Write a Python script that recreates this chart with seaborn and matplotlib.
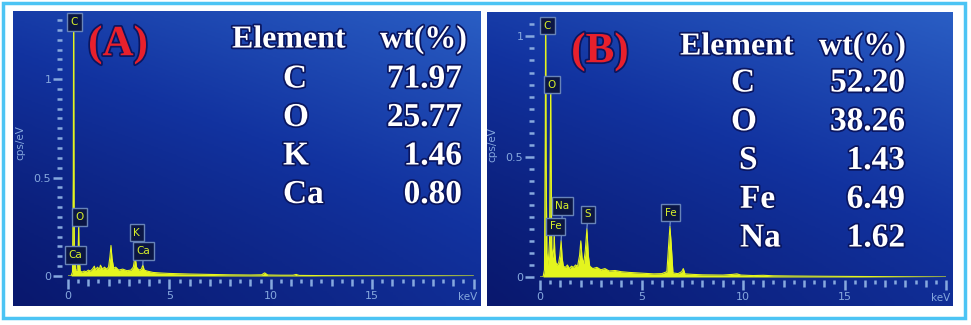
import numpy as np
import matplotlib
matplotlib.use('Agg')
import matplotlib.pyplot as plt
import matplotlib.patheffects as pe
from matplotlib.colors import LinearSegmentedColormap
from matplotlib.patches import Rectangle
from matplotlib.ticker import MultipleLocator, FixedLocator, FuncFormatter
import seaborn as sns

# spectrum (A): energy in keV, intensity in cps/eV
energy_a = [0.0, 0.15, 0.22, 0.26, 0.277, 0.30, 0.32, 0.34, 0.37, 0.45, 0.50, 0.525,
            0.55, 0.60, 0.70, 0.80, 0.90, 1.00, 1.10, 1.20, 1.30, 1.35, 1.45, 1.55,
            1.60, 1.70, 1.80, 1.90, 2.00, 2.07, 2.12, 2.17, 2.25, 2.35, 2.50, 2.70,
            2.90, 3.10, 3.22, 3.31, 3.38, 3.50, 3.62, 3.69, 3.76, 3.90, 4.20, 4.60,
            5.00, 6.00, 7.00, 8.00, 9.00, 9.55, 9.70, 9.85, 10.5, 11.1, 11.25, 11.4,
            12.5, 14.0, 16.0, 18.0, 20.0]
counts_a = [0.0, 0.0, 0.02, 0.5, 1.40, 0.30, 0.06, 0.09, 0.03, 0.03, 0.12, 0.25,
            0.10, 0.025, 0.02, 0.025, 0.022, 0.03, 0.025, 0.035, 0.05, 0.03, 0.045, 0.035,
            0.055, 0.035, 0.045, 0.035, 0.045, 0.10, 0.155, 0.09, 0.04, 0.045, 0.03, 0.035,
            0.027, 0.03, 0.045, 0.10, 0.045, 0.03, 0.035, 0.055, 0.03, 0.025, 0.018, 0.015,
            0.013, 0.01, 0.008, 0.006, 0.005, 0.006, 0.016, 0.005, 0.004, 0.004, 0.008, 0.003,
            0.002, 0.0015, 0.001, 0.001, 0.0]

# spectrum (B)
energy_b = [0.0, 0.15, 0.22, 0.26, 0.277, 0.30, 0.34, 0.40, 0.47, 0.51, 0.525, 0.545,
            0.58, 0.63, 0.68, 0.705, 0.73, 0.78, 0.85, 0.92, 0.98, 1.04, 1.09, 1.15,
            1.25, 1.35, 1.45, 1.55, 1.65, 1.75, 1.85, 1.95, 2.01, 2.07, 2.15, 2.23,
            2.31, 2.38, 2.45, 2.60, 2.80, 3.00, 3.20, 3.40, 3.70, 4.00, 4.40, 4.80,
            5.20, 5.60, 6.00, 6.25, 6.35, 6.40, 6.46, 6.55, 6.80, 6.98, 7.06, 7.14,
            7.50, 8.00, 9.00, 9.50, 9.70, 9.90, 10.5, 11.0, 11.5, 12.5, 14.0, 16.0,
            18.0, 20.0]
counts_b = [0.0, 0.0, 0.03, 0.6, 1.15, 0.5, 0.10, 0.05, 0.15, 0.6, 0.76, 0.5,
            0.12, 0.08, 0.12, 0.17, 0.10, 0.06, 0.05, 0.06, 0.09, 0.15, 0.08, 0.045,
            0.04, 0.05, 0.035, 0.045, 0.04, 0.05, 0.045, 0.09, 0.15, 0.08, 0.055, 0.11,
            0.20, 0.09, 0.045, 0.035, 0.04, 0.03, 0.035, 0.025, 0.027, 0.022, 0.019, 0.017,
            0.015, 0.013, 0.014, 0.022, 0.15, 0.21, 0.14, 0.017, 0.014, 0.022, 0.035, 0.013,
            0.011, 0.009, 0.008, 0.011, 0.013, 0.008, 0.006, 0.007, 0.005, 0.004, 0.003, 0.002,
            0.001, 0.0]

# peak labels: element, peak energy, peak height, label x, label y
peaks_a = [('C', 0.277, 1.30, 0.32, 1.29), ('O', 0.525, 0.25, 0.57, 0.30),
           ('Ca', 0.34, 0.09, 0.37, 0.107), ('K', 3.31, 0.10, 3.38, 0.22),
           ('Ca', 3.69, 0.055, 3.72, 0.127)]
peaks_b = [('C', 0.277, 1.06, 0.37, 1.045), ('O', 0.525, 0.76, 0.59, 0.80),
           ('Na', 1.04, 0.15, 1.11, 0.295), ('Fe', 0.705, 0.17, 0.76, 0.21),
           ('S', 2.31, 0.20, 2.36, 0.26), ('Fe', 6.40, 0.21, 6.45, 0.268)]

# composition tables
elements_a = ['C', 'O', 'K', 'Ca']
wt_a = ['71.97', '25.77', '1.46', '0.80']
elements_b = ['C', 'O', 'S', 'Fe', 'Na']
wt_b = ['52.20', '38.26', '1.43', '6.49', '1.62']

sns.set_theme(style='white')
plt.rcParams['font.family'] = ['DejaVu Sans']

W, H = 971, 325
TICK = '#86a8de'
SPEC = '#e4f41e'
fig = plt.figure(figsize=(9.71, 3.25), dpi=100)
fig.patch.set_facecolor('white')


def rect(x0, y0, x1, y1):
    return [x0 / W, 1 - y1 / H, (x1 - x0) / W, (y1 - y0) / H]


bg_cmap = LinearSegmentedColormap.from_list('bg', ['#09186e', '#1233a0', '#2a5ec4'])
yy, xx = np.mgrid[0:1:120j, 0:1:200j]
shade = 0.4 * xx + 0.6 * (1 - yy) ** 1.3


def panel(box, energy, counts, ymax, yrect, peaks):
    bg = fig.add_axes(rect(*box))
    bg.imshow(shade, cmap=bg_cmap, aspect='auto', origin='upper', vmin=0, vmax=1)
    bg.set_axis_off()

    ax = fig.add_axes(rect(*yrect))
    ax.set_facecolor('none')
    ax.fill_between(energy, counts, color=SPEC, lw=0)
    sns.lineplot(x=energy, y=counts, ax=ax, color=SPEC, lw=0.8, sort=False, estimator=None)
    ax.set_xlim(0, 20)
    ax.set_ylim(0, ymax)

    for s in ax.spines.values():
        s.set_color('none')
    ax.spines['left'].set_position(('outward', 4.5))
    ax.spines['bottom'].set_position(('outward', 2))

    ax.xaxis.set_major_locator(FixedLocator(range(0, 21)))
    ax.xaxis.set_minor_locator(MultipleLocator(0.5))
    ax.xaxis.set_major_formatter(FuncFormatter(
        lambda v, p: f'{int(v)}' if v % 5 == 0 and v < 20 else ''))
    ax.yaxis.set_major_locator(FixedLocator([0, 0.5, 1]))
    ax.yaxis.set_minor_locator(MultipleLocator(0.05))
    ax.yaxis.set_major_formatter(FuncFormatter(lambda v, p: f'{v:g}'))

    ax.tick_params(axis='both', which='both', bottom=True, left=True, top=False, right=False)
    ax.tick_params(axis='x', which='major', direction='out', length=7, width=1.8,
                   colors=TICK, labelsize=8, pad=2)
    ax.tick_params(axis='x', which='minor', direction='out', length=3, width=1.8,
                   colors=TICK)
    ax.tick_params(axis='y', which='major', direction='out', length=6.5, width=1.8,
                   colors=TICK, labelsize=8, pad=1)
    ax.tick_params(axis='y', which='minor', direction='out', length=3.6, width=1.8,
                   colors=TICK)
    for t, v in zip(ax.xaxis.get_major_ticks(), range(0, 21)):
        if v % 5:
            t.tick1line.set_markersize(5)

    ax.set_xlabel('')
    ax.set_ylabel('cps/eV', color=TICK, fontsize=7.5)
    ax.yaxis.set_label_coords(-0.105, 0.52)
    ax.text(0.986, -0.082, 'keV', transform=ax.transAxes, ha='center', va='center',
            color=TICK, fontsize=7.5)

    for name, px, py, lx, ly in peaks:
        ax.annotate(name, xy=(px, py), xytext=(lx, ly), ha='center', va='center',
                    color='#d8f02a', fontsize=7.5, annotation_clip=False,
                    bbox=dict(boxstyle='square,pad=0.35', fc='#0b1644', ec='#6884b8', lw=1),
                    arrowprops=dict(arrowstyle='-', color='#7f9fd0', lw=0.8,
                                    shrinkA=0, shrinkB=0))
    return ax


panel((13, 11, 480, 306), energy_a, counts_a, 1.3, (68, 20, 473.5, 276), peaks_a)
panel((487, 12, 953, 306), energy_b, counts_b, 1.06, (540, 22, 946, 277), peaks_b)

serif = ['Liberation Serif', 'DejaVu Serif']
glow = [pe.withStroke(linewidth=2.5, foreground='#0a1660')]


def ftext(x, y, s, **kw):
    return fig.text(x / W, 1 - y / H, s, family=serif, fontweight='bold',
                    va='center', path_effects=glow, **kw)


ftext(118, 45, '(A)', color='#e8202c', fontsize=31, ha='center')
ftext(600, 52, '(B)', color='#e8202c', fontsize=31, ha='center')

ftext(232, 40, 'Element', color='white', fontsize=23, ha='left')
ftext(467, 40, 'wt(%)', color='white', fontsize=23, ha='right')
for i, (el, v) in enumerate(zip(elements_a, wt_a)):
    y = 79 + i * 38.5
    ftext(283, y, el, color='white', fontsize=24, ha='left')
    ftext(462, y, v, color='white', fontsize=24, ha='right')

ftext(680, 47, 'Element', color='white', fontsize=23, ha='left')
ftext(906, 47, 'wt(%)', color='white', fontsize=23, ha='right')
el_x_b = [731, 731, 739, 740, 740]
for i, (el, v) in enumerate(zip(elements_b, wt_b)):
    y = 83 + i * 38.75
    ftext(el_x_b[i], y, el, color='white', fontsize=24, ha='left')
    ftext(905, y, v, color='white', fontsize=24, ha='right')

fig.patches.append(Rectangle((3 / W, 1 - 318 / H), 962 / W, 315 / H, transform=fig.transFigure,
                             fill=False, ec='#4cc4f4', lw=2.5))

fig.savefig('out.png', dpi=100)
